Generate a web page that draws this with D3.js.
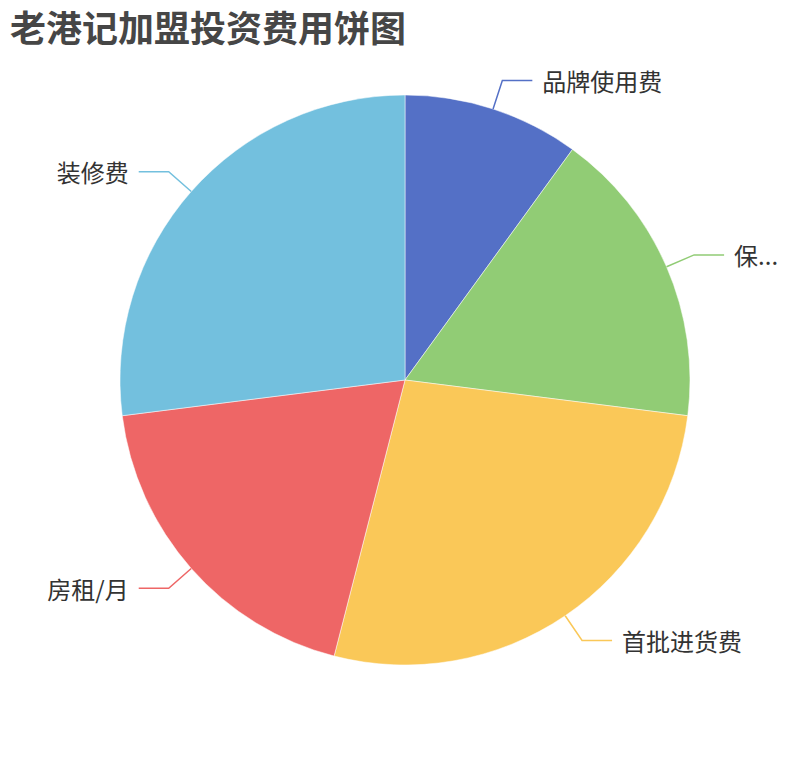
<!DOCTYPE html>
<html>
<head>
<meta charset="utf-8">
<script src="https://cdn.jsdelivr.net/npm/d3@7"></script>
<style>
  body { margin: 0; background: #fff; }
  svg { display: block; font-family: "Noto Sans CJK SC", "Noto Sans", sans-serif; }
</style>
</head>
<body>
<div id="chart"></div>
<script>
const title = "老港记加盟投资费用饼图";
const categories = ["品牌使用费", "保证金", "首批进货费", "房租/月", "装修费"];
const values = [10000, 17000, 27000, 19000, 27000];
const colors = ["#5470c6", "#91cc75", "#fac858", "#ee6666", "#73c0de"];

const width = 810;
const height = 760;
const cx = width / 2;
const cy = height / 2;
const radius = Math.min(width, height) / 2 * 0.75;
const len1 = 30, len2 = 30, gap = 10;
const rightLimit = 790, leftLimit = 20;

const svg = d3.select("#chart")
    .append("svg")
    .attr("width", width)
    .attr("height", height)
    .attr("viewBox", `0 0 ${width} ${height}`);

// title
svg.append("text")
    .attr("x", 10)
    .attr("y", 26)
    .attr("dominant-baseline", "central")
    .style("font-size", "36px")
    .style("font-weight", "bold")
    .style("fill", "#464646")
    .text(title);

const data = categories.map((name, i) => ({ name: name, value: values[i], color: colors[i] }));

const pie = d3.pie()
    .value(d => d.value)
    .sort(null);

const arc = d3.arc()
    .innerRadius(0)
    .outerRadius(radius);

const g = svg.append("g")
    .attr("transform", `translate(${cx},${cy})`);

const arcs = pie(data);

g.selectAll("path.slice")
    .data(arcs)
    .enter()
    .append("path")
    .attr("class", "slice")
    .attr("d", arc)
    .attr("fill", d => d.data.color)
    .attr("stroke", "#fff")
    .attr("stroke-width", 0.5);

// label lines and labels
arcs.forEach(d => {
    const mid = (d.startAngle + d.endAngle) / 2;
    const sx = Math.sin(mid), sy = -Math.cos(mid);
    const p0 = [sx * radius, sy * radius];
    const p1 = [sx * (radius + len1), sy * (radius + len1)];
    const right = sx >= 0;
    const p2 = [p1[0] + (right ? len2 : -len2), p1[1]];

    g.append("polyline")
        .attr("points", [p0, p1, p2].map(p => p.join(",")).join(" "))
        .attr("fill", "none")
        .attr("stroke", d.data.color)
        .attr("stroke-width", 1.5);

    const tx = p2[0] + (right ? gap : -gap);
    const label = g.append("text")
        .attr("x", tx)
        .attr("y", p2[1])
        .attr("dominant-baseline", "central")
        .attr("text-anchor", right ? "start" : "end")
        .style("font-size", "24px")
        .style("fill", "#333")
        .text(d.data.name);

    // truncate if the label runs past the edge
    const avail = right ? (rightLimit - cx - tx) : (tx + cx - leftLimit);
    let name = d.data.name;
    if (label.node().getComputedTextLength() > avail) {
        while (name.length > 1) {
            name = name.slice(0, -1);
            label.text(name + "...");
            if (label.node().getComputedTextLength() <= avail) break;
        }
    }
});
</script>
</body>
</html>
